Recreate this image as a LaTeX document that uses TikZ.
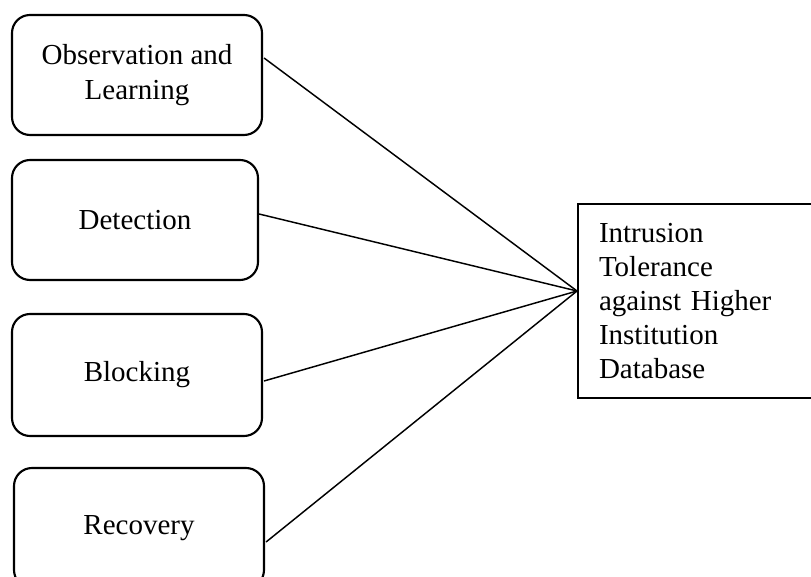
\documentclass[tikz,border=0pt]{standalone}
\usepackage{fontspec}
\setmainfont{Liberation Serif}
\usetikzlibrary{calc}
\begin{document}
\begin{tikzpicture}[x=0.75pt,y=-0.75pt,
  stagebox/.style={draw, line width=1.6pt, rounded corners=13.5pt,
    minimum width=187.5pt, minimum height=90pt, inner sep=0pt,
    align=center, font=\fontsize{21.75}{26}\selectfont},
  goalbox/.style={draw, line width=1.5pt, minimum width=182.25pt,
    minimum height=145.5pt, inner xsep=15.75pt, inner ysep=0pt,
    text width=150.75pt, align=left, font=\fontsize{21.75}{25.5}\selectfont},
  link/.style={line width=1.1pt}]
\useasboundingbox (0,0) rectangle (811,577);
\clip (0,0) rectangle (811,577);
\node[stagebox] (b1) at (137,75) {Observation and\\Learning};
\node[stagebox, minimum width=184.5pt] (b2) at (135,220) {Detection};
\node[stagebox, minimum height=91.5pt] (b3) at (137,375) {Blocking};
\node[stagebox] (b4) at (139,528) {Recovery};
\node[goalbox, anchor=west] (goal) at (577,301)
  {Intrusion\\Tolerance\\against Higher\\Institution\\Database};
\coordinate (hub) at (577,291);
\draw[link] ($(b1.east)+(1,-17)$) -- (hub);
\draw[link] ($(b2.east)+(0,-6)$) -- (hub);
\draw[link] ($(b3.east)+(1,6)$) -- (hub);
\draw[link] ($(b4.east)+(1,14)$) -- (hub);
\end{tikzpicture}
\end{document}
